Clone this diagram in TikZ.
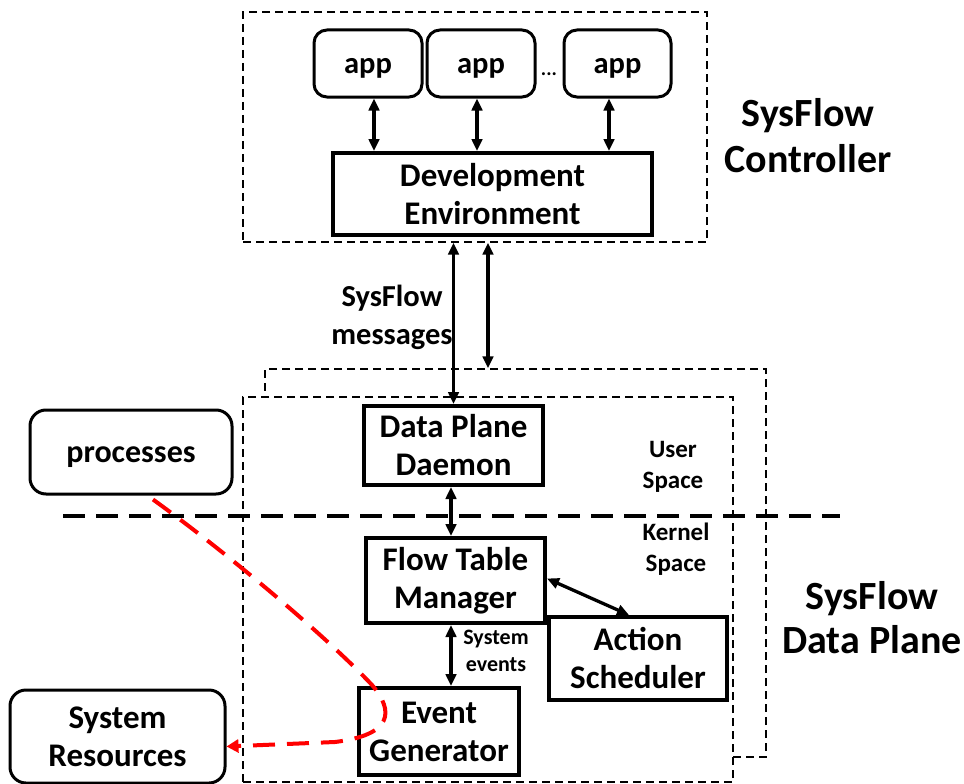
\documentclass[tikz,border=0pt]{standalone}
\usepackage{fontspec}
\setmainfont{Carlito}
\usetikzlibrary{arrows.meta,calc}
\tikzset{
  thinbox/.style={draw, line width=1.4pt, dash pattern=on 8pt off 5pt, inner sep=0pt},
  appbox/.style={draw, line width=3pt, rounded corners=13pt, minimum width=108pt, minimum height=67pt, inner sep=0pt, text height=21pt, text depth=0pt, font=\fontsize{30.5}{38}\selectfont\bfseries},
  blockbox/.style={draw, line width=4pt, fill=white, inner sep=0pt, align=center, font=\fontsize{33}{38}\selectfont\bfseries},
  extbox/.style={draw, line width=3pt, rounded corners=16pt, fill=white, inner sep=0pt, align=center, font=\fontsize{33}{38}\selectfont\bfseries},
  label/.style={align=center, inner sep=0pt, font=\bfseries},
  biarrow/.style={line width=3.3pt, {Triangle[length=12pt,width=10.5pt]}-{Triangle[length=12pt,width=10.5pt]}},
  divider/.style={line width=4pt, dash pattern=on 22pt off 11pt},
  reddash/.style={draw=red, line width=4pt, dash pattern=on 22pt off 12pt, -{Triangle[length=12pt,width=13pt]}}
}
\begin{document}
\begin{tikzpicture}[x=1pt,y=-1pt]
\useasboundingbox (0,0) rectangle (964,784);
\fill[white] (0,0) rectangle (964,784);

% controller region
\node[thinbox, minimum width=464pt, minimum height=230pt] (ctrl) at (475,127) {};
\node[appbox] (app1) at (368,63.5) {app};
\node[appbox] (app2) at (481,63.5) {app};
\node[appbox, minimum width=107pt] (app3) at (617.5,63.5) {app};
\node[label, font=\fontsize{20}{24}\selectfont\bfseries] (dots) at (549,74) {...};
\node[blockbox, minimum width=319pt, minimum height=82pt] (dev) at (492.5,194) {Development\\Environment};

\draw[biarrow] ([xshift=6pt]app1.south) -- ([xshift=6pt]app1.south |- dev.north);
\draw[biarrow] ([xshift=-4pt]app2.south) -- ([xshift=-4pt]app2.south |- dev.north);
\draw[biarrow] ([xshift=-8.5pt]app3.south) -- ([xshift=-8.5pt]app3.south |- dev.north);

\node[label, font=\fontsize{40}{46}\selectfont\bfseries] (ctrltitle) at (808,136) {SysFlow\\Controller};

% data plane region: two stacked instances
\node[thinbox, minimum width=501pt, minimum height=388pt] (dpback) at (515.5,563) {};
\node[thinbox, fill=white, minimum width=490pt, minimum height=385pt] (dpfront) at (488,589.5) {};

\node[blockbox, minimum width=179pt, minimum height=79pt] (dpd) at (453.5,445.5) {Data Plane\\Daemon};
\node[blockbox, minimum width=179pt, minimum height=85pt] (ftm) at (455.5,580.5) {Flow Table\\Manager};
\node[blockbox, minimum width=178pt, minimum height=83pt] (as) at (638,658.5) {Action\\Scheduler};
\node[blockbox, minimum width=160pt, minimum height=87pt] (eg) at (439,731.5) {Event\\Generator};

\node[extbox, minimum width=202pt, minimum height=84pt, text height=20pt, text depth=0pt, font=\fontsize{32}{38}\selectfont\bfseries] (proc) at (131,452) {processes};
\node[extbox, minimum width=215pt, minimum height=93pt] (sysres) at (117.5,736.5) {System\\Resources};

\node[label, font=\fontsize{25}{31}\selectfont\bfseries] (user) at (673,467) {User\\Space};
\node[label, font=\fontsize{25}{31}\selectfont\bfseries] (kernel) at (676,549) {Kernel\\Space};
\node[label, font=\fontsize{22}{27}\selectfont\bfseries] (sysev) at (496,651) {System\\events};
\node[label, font=\fontsize{30.5}{38}\selectfont\bfseries] (msgs) at (392,317) {SysFlow\\messages};
\node[label, font=\fontsize{40}{44}\selectfont\bfseries] (dptitle) at (872,618) {SysFlow\\Data Plane};

% user / kernel boundary
\coordinate (divL) at (63,516);
\coordinate (divR) at (840,516);
\draw[divider] (divL) -- (divR);

% controller <-> data plane messages
\draw[biarrow] (ctrl.south -| dpd.north) -- (dpd.north);
\draw[biarrow] ([xshift=13pt]ctrl.south) -- ([xshift=13pt]ctrl.south |- dpback.north);

% data plane internals
\draw[biarrow] ([xshift=-2.5pt]dpd.south) -- ([xshift=-2.5pt]dpd.south |- ftm.north);
\draw[biarrow] ([xshift=-4.5pt]ftm.south) -- ([xshift=-4.5pt]ftm.south |- eg.north);
\draw[biarrow] ([yshift=2pt]ftm.east) -- ([xshift=-9pt]as.north);

% intercepted path from processes to system resources
\draw[reddash] ([xshift=22pt,yshift=-4pt]proc.south)
  .. controls (230,555) and (330,640) .. (372,685)
  .. controls (395,712) and (392,735) .. (335,742)
  -- ([yshift=-10pt]sysres.east);
\end{tikzpicture}
\end{document}
